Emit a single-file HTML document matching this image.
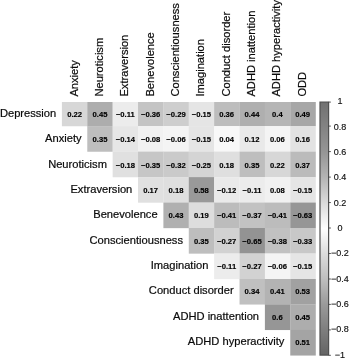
<!DOCTYPE html>
<html><head><meta charset="utf-8"><title>Correlation plot</title>
<style>
html,body{margin:0;padding:0;background:#fff;}
svg{display:block;position:absolute;left:0;top:0;font-family:"Liberation Sans",sans-serif;}
svg{filter:blur(0.4px);}
.n{font-weight:bold;font-size:7.65px;text-anchor:middle;fill:#000;stroke:#000;stroke-width:0.15px;}
.r{font-size:11.15px;text-anchor:end;fill:#0a0a0a;stroke:#0a0a0a;stroke-width:0.2px;}
.k{font-size:11.15px;text-anchor:start;fill:#0a0a0a;stroke:#0a0a0a;stroke-width:0.2px;}
.t{font-size:9px;text-anchor:middle;fill:#111;stroke:#111;stroke-width:0.15px;}
</style></head><body>
<svg width="350" height="360" viewBox="0 0 350 360">
<rect x="0" y="0" width="350" height="360" fill="#fff"/>
<g>
<rect x="61.90" y="102.00" width="25.52" height="24.25" fill="rgb(215,215,215)"/>
<rect x="87.28" y="102.00" width="25.52" height="24.25" fill="rgb(173,173,173)"/>
<rect x="112.65" y="102.00" width="25.52" height="24.25" fill="rgb(236,236,236)"/>
<rect x="138.03" y="102.00" width="25.52" height="24.25" fill="rgb(196,196,196)"/>
<rect x="163.40" y="102.00" width="25.52" height="24.25" fill="rgb(206,206,206)"/>
<rect x="188.78" y="102.00" width="25.52" height="24.25" fill="rgb(229,229,229)"/>
<rect x="214.15" y="102.00" width="25.52" height="24.25" fill="rgb(189,189,189)"/>
<rect x="239.53" y="102.00" width="25.52" height="24.25" fill="rgb(175,175,175)"/>
<rect x="264.90" y="102.00" width="25.52" height="24.25" fill="rgb(181,181,181)"/>
<rect x="290.27" y="102.00" width="25.52" height="24.25" fill="rgb(167,167,167)"/>
<rect x="87.28" y="126.10" width="25.52" height="25.65" fill="rgb(190,190,190)"/>
<rect x="112.65" y="126.10" width="25.52" height="25.65" fill="rgb(230,230,230)"/>
<rect x="138.03" y="126.10" width="25.52" height="25.65" fill="rgb(241,241,241)"/>
<rect x="163.40" y="126.10" width="25.52" height="25.65" fill="rgb(244,244,244)"/>
<rect x="188.78" y="126.10" width="25.52" height="25.65" fill="rgb(229,229,229)"/>
<rect x="214.15" y="126.10" width="25.52" height="25.65" fill="rgb(248,248,248)"/>
<rect x="239.53" y="126.10" width="25.52" height="25.65" fill="rgb(233,233,233)"/>
<rect x="264.90" y="126.10" width="25.52" height="25.65" fill="rgb(244,244,244)"/>
<rect x="290.27" y="126.10" width="25.52" height="25.65" fill="rgb(226,226,226)"/>
<rect x="112.65" y="151.60" width="25.52" height="25.65" fill="rgb(224,224,224)"/>
<rect x="138.03" y="151.60" width="25.52" height="25.65" fill="rgb(198,198,198)"/>
<rect x="163.40" y="151.60" width="25.52" height="25.65" fill="rgb(202,202,202)"/>
<rect x="188.78" y="151.60" width="25.52" height="25.65" fill="rgb(212,212,212)"/>
<rect x="214.15" y="151.60" width="25.52" height="25.65" fill="rgb(223,223,223)"/>
<rect x="239.53" y="151.60" width="25.52" height="25.65" fill="rgb(190,190,190)"/>
<rect x="264.90" y="151.60" width="25.52" height="25.65" fill="rgb(215,215,215)"/>
<rect x="290.27" y="151.60" width="25.52" height="25.65" fill="rgb(187,187,187)"/>
<rect x="138.03" y="177.10" width="25.52" height="25.60" fill="rgb(224,224,224)"/>
<rect x="163.40" y="177.10" width="25.52" height="25.60" fill="rgb(223,223,223)"/>
<rect x="188.78" y="177.10" width="25.52" height="25.60" fill="rgb(153,153,153)"/>
<rect x="214.15" y="177.10" width="25.52" height="25.60" fill="rgb(234,234,234)"/>
<rect x="239.53" y="177.10" width="25.52" height="25.60" fill="rgb(236,236,236)"/>
<rect x="264.90" y="177.10" width="25.52" height="25.60" fill="rgb(241,241,241)"/>
<rect x="290.27" y="177.10" width="25.52" height="25.60" fill="rgb(229,229,229)"/>
<rect x="163.40" y="202.55" width="25.52" height="25.60" fill="rgb(176,176,176)"/>
<rect x="188.78" y="202.55" width="25.52" height="25.60" fill="rgb(221,221,221)"/>
<rect x="214.15" y="202.55" width="25.52" height="25.60" fill="rgb(188,188,188)"/>
<rect x="239.53" y="202.55" width="25.52" height="25.60" fill="rgb(194,194,194)"/>
<rect x="264.90" y="202.55" width="25.52" height="25.60" fill="rgb(188,188,188)"/>
<rect x="290.27" y="202.55" width="25.52" height="25.60" fill="rgb(150,150,150)"/>
<rect x="188.78" y="228.00" width="25.52" height="25.65" fill="rgb(190,190,190)"/>
<rect x="214.15" y="228.00" width="25.52" height="25.65" fill="rgb(210,210,210)"/>
<rect x="239.53" y="228.00" width="25.52" height="25.65" fill="rgb(147,147,147)"/>
<rect x="264.90" y="228.00" width="25.52" height="25.65" fill="rgb(193,193,193)"/>
<rect x="290.27" y="228.00" width="25.52" height="25.65" fill="rgb(200,200,200)"/>
<rect x="214.15" y="253.50" width="25.52" height="25.65" fill="rgb(236,236,236)"/>
<rect x="239.53" y="253.50" width="25.52" height="25.65" fill="rgb(210,210,210)"/>
<rect x="264.90" y="253.50" width="25.52" height="25.65" fill="rgb(244,244,244)"/>
<rect x="290.27" y="253.50" width="25.52" height="25.65" fill="rgb(229,229,229)"/>
<rect x="239.53" y="279.00" width="25.52" height="25.55" fill="rgb(192,192,192)"/>
<rect x="264.90" y="279.00" width="25.52" height="25.55" fill="rgb(179,179,179)"/>
<rect x="290.27" y="279.00" width="25.52" height="25.55" fill="rgb(161,161,161)"/>
<rect x="264.90" y="304.40" width="25.52" height="25.65" fill="rgb(150,150,150)"/>
<rect x="290.27" y="304.40" width="25.52" height="25.65" fill="rgb(173,173,173)"/>
<rect x="290.27" y="329.90" width="25.52" height="25.65" fill="rgb(164,164,164)"/>
</g><g>
<text class="n" x="74.70" y="117.00">0.22</text>
<text class="n" x="100.03" y="117.00">0.45</text>
<text class="n" x="125.36" y="117.00">−0.11</text>
<text class="n" x="150.69" y="117.00">−0.36</text>
<text class="n" x="176.02" y="117.00">−0.29</text>
<text class="n" x="201.35" y="117.00">−0.15</text>
<text class="n" x="226.68" y="117.00">0.36</text>
<text class="n" x="252.01" y="117.00">0.44</text>
<text class="n" x="277.34" y="117.00">0.4</text>
<text class="n" x="302.67" y="117.00">0.49</text>
<text class="n" x="100.03" y="142.33">0.35</text>
<text class="n" x="125.36" y="142.33">−0.14</text>
<text class="n" x="150.69" y="142.33">−0.08</text>
<text class="n" x="176.02" y="142.33">−0.06</text>
<text class="n" x="201.35" y="142.33">−0.15</text>
<text class="n" x="226.68" y="142.33">0.04</text>
<text class="n" x="252.01" y="142.33">0.12</text>
<text class="n" x="277.34" y="142.33">0.06</text>
<text class="n" x="302.67" y="142.33">0.16</text>
<text class="n" x="125.36" y="167.66">−0.18</text>
<text class="n" x="150.69" y="167.66">−0.35</text>
<text class="n" x="176.02" y="167.66">−0.32</text>
<text class="n" x="201.35" y="167.66">−0.25</text>
<text class="n" x="226.68" y="167.66">0.18</text>
<text class="n" x="252.01" y="167.66">0.35</text>
<text class="n" x="277.34" y="167.66">0.22</text>
<text class="n" x="302.67" y="167.66">0.37</text>
<text class="n" x="150.69" y="192.99">0.17</text>
<text class="n" x="176.02" y="192.99">0.18</text>
<text class="n" x="201.35" y="192.99">0.58</text>
<text class="n" x="226.68" y="192.99">−0.12</text>
<text class="n" x="252.01" y="192.99">−0.11</text>
<text class="n" x="277.34" y="192.99">0.08</text>
<text class="n" x="302.67" y="192.99">−0.15</text>
<text class="n" x="176.02" y="218.32">0.43</text>
<text class="n" x="201.35" y="218.32">0.19</text>
<text class="n" x="226.68" y="218.32">−0.41</text>
<text class="n" x="252.01" y="218.32">−0.37</text>
<text class="n" x="277.34" y="218.32">−0.41</text>
<text class="n" x="302.67" y="218.32">−0.63</text>
<text class="n" x="201.35" y="243.65">0.35</text>
<text class="n" x="226.68" y="243.65">−0.27</text>
<text class="n" x="252.01" y="243.65">−0.65</text>
<text class="n" x="277.34" y="243.65">−0.38</text>
<text class="n" x="302.67" y="243.65">−0.33</text>
<text class="n" x="226.68" y="268.98">−0.11</text>
<text class="n" x="252.01" y="268.98">−0.27</text>
<text class="n" x="277.34" y="268.98">−0.06</text>
<text class="n" x="302.67" y="268.98">−0.15</text>
<text class="n" x="252.01" y="294.31">0.34</text>
<text class="n" x="277.34" y="294.31">0.41</text>
<text class="n" x="302.67" y="294.31">0.53</text>
<text class="n" x="277.34" y="319.64">0.6</text>
<text class="n" x="302.67" y="319.64">0.45</text>
<text class="n" x="302.67" y="344.97">0.51</text>
</g><g>
<text class="r" x="56.25" y="117.00">Depression</text>
<text class="r" x="81.60" y="142.33">Anxiety</text>
<text class="r" x="106.95" y="167.66">Neuroticism</text>
<text class="r" x="132.30" y="192.99">Extraversion</text>
<text class="r" x="157.65" y="218.32">Benevolence</text>
<text class="r" x="183.00" y="243.65">Conscientiousness</text>
<text class="r" x="208.35" y="268.98">Imagination</text>
<text class="r" x="233.70" y="294.31">Conduct disorder</text>
<text class="r" x="259.05" y="319.64">ADHD inattention</text>
<text class="r" x="284.40" y="344.97">ADHD hyperactivity</text>
</g><g>
<text class="k" transform="translate(77.80 96.60) rotate(-90)">Anxiety</text>
<text class="k" transform="translate(103.13 96.60) rotate(-90)">Neuroticism</text>
<text class="k" transform="translate(128.46 96.60) rotate(-90)">Extraversion</text>
<text class="k" transform="translate(153.79 96.60) rotate(-90)">Benevolence</text>
<text class="k" transform="translate(179.12 96.60) rotate(-90)">Conscientiousness</text>
<text class="k" transform="translate(204.45 96.60) rotate(-90)">Imagination</text>
<text class="k" transform="translate(229.78 96.60) rotate(-90)">Conduct disorder</text>
<text class="k" transform="translate(255.11 96.60) rotate(-90)">ADHD inattention</text>
<text class="k" transform="translate(280.44 96.60) rotate(-90)">ADHD hyperactivity</text>
<text class="k" transform="translate(305.77 96.60) rotate(-90)">ODD</text>
</g>
<defs><linearGradient id="cb" x1="0" y1="0" x2="0" y2="1"><stop offset="0.000" stop-color="rgb(113,113,113)"/><stop offset="0.100" stop-color="rgb(131,131,131)"/><stop offset="0.200" stop-color="rgb(150,150,150)"/><stop offset="0.300" stop-color="rgb(181,181,181)"/><stop offset="0.400" stop-color="rgb(219,219,219)"/><stop offset="0.500" stop-color="rgb(255,255,255)"/><stop offset="0.600" stop-color="rgb(220,220,220)"/><stop offset="0.700" stop-color="rgb(190,190,190)"/><stop offset="0.800" stop-color="rgb(154,154,154)"/><stop offset="0.900" stop-color="rgb(126,126,126)"/><stop offset="1.000" stop-color="rgb(100,100,100)"/></linearGradient></defs>
<rect x="320.00" y="102.10" width="8.60" height="253.00" fill="url(#cb)" stroke="#505050" stroke-width="1.2"/>
<g>
<line x1="328.70" y1="102.10" x2="330.90" y2="102.10" stroke="#333" stroke-width="0.8"/>
<text class="t" x="340.00" y="104.40">1</text>
<line x1="328.70" y1="126.10" x2="330.90" y2="126.10" stroke="#333" stroke-width="0.8"/>
<text class="t" x="340.00" y="129.73">0.8</text>
<line x1="328.70" y1="151.60" x2="330.90" y2="151.60" stroke="#333" stroke-width="0.8"/>
<text class="t" x="340.00" y="155.06">0.6</text>
<line x1="328.70" y1="177.10" x2="330.90" y2="177.10" stroke="#333" stroke-width="0.8"/>
<text class="t" x="340.00" y="180.39">0.4</text>
<line x1="328.70" y1="202.55" x2="330.90" y2="202.55" stroke="#333" stroke-width="0.8"/>
<text class="t" x="340.00" y="205.72">0.2</text>
<line x1="328.70" y1="228.00" x2="330.90" y2="228.00" stroke="#333" stroke-width="0.8"/>
<text class="t" x="340.00" y="231.05">0</text>
<line x1="328.70" y1="253.50" x2="330.90" y2="253.50" stroke="#333" stroke-width="0.8"/>
<text class="t" x="340.00" y="256.38">−0.2</text>
<line x1="328.70" y1="279.00" x2="330.90" y2="279.00" stroke="#333" stroke-width="0.8"/>
<text class="t" x="340.00" y="281.71">−0.4</text>
<line x1="328.70" y1="304.40" x2="330.90" y2="304.40" stroke="#333" stroke-width="0.8"/>
<text class="t" x="340.00" y="307.04">−0.6</text>
<line x1="328.70" y1="329.90" x2="330.90" y2="329.90" stroke="#333" stroke-width="0.8"/>
<text class="t" x="340.00" y="332.37">−0.8</text>
<line x1="328.70" y1="355.30" x2="330.90" y2="355.30" stroke="#333" stroke-width="0.8"/>
<text class="t" x="340.00" y="357.70">−1</text>
</g>
</svg></body></html>
